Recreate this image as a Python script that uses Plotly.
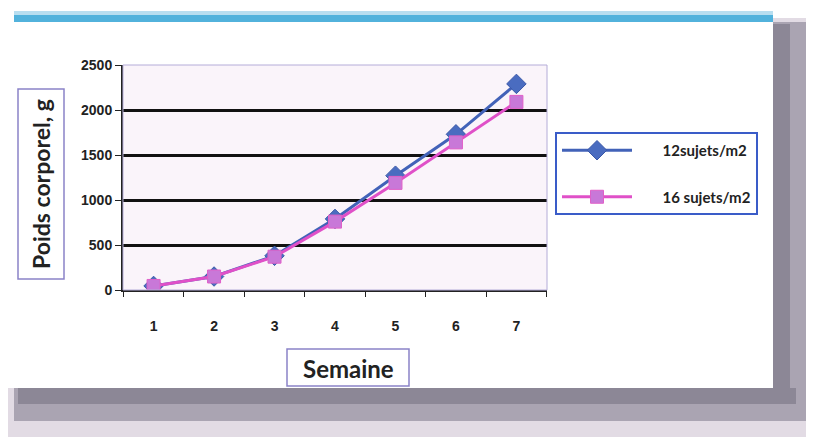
import plotly.graph_objects as go

weeks = ["1", "2", "3", "4", "5", "6", "7"]
s12 = [45, 150, 380, 790, 1270, 1730, 2290]
s16 = [45, 150, 370, 760, 1190, 1640, 2090]
series_names = ["12sujets/m2", "16 sujets/m2"]
y_ticks = [0, 500, 1000, 1500, 2000, 2500]
y_title = "Poids corporel, g"
x_title = "Semaine"

# page is rendered with an 8px body margin: work in page pixels, shift by O
O = 8
W, H = 814 - O, 437 - O
L, R, T, B = 123, 547, 65, 290  # page pixels of the plot area


def fx(px):
    return (px - L) / (R - L)


def fy(py):
    return (B - py) / (B - T)


def rect(x0, y0, x1, y1, fill=None, line=None, lw=0):
    return dict(type="rect", xref="paper", yref="paper",
                x0=fx(x0), x1=fx(x1), y0=fy(y1), y1=fy(y0),
                fillcolor=fill if fill else "rgba(0,0,0,0)",
                line=dict(color=line if line else "rgba(0,0,0,0)", width=lw),
                layer="above" if fill is None else "below")


pad = "\u00a0" * 7

fig = go.Figure()
fig.add_trace(go.Scatter(
    x=weeks, y=s12, name=pad + series_names[0], mode="lines+markers",
    line=dict(color="#4262b8", width=3),
    marker=dict(symbol="diamond", size=15, color="#4a6cc0",
                line=dict(color="#3a58a8", width=1)),
    legendgroup="a"))
fig.add_trace(go.Scatter(
    x=weeks, y=s16, name=pad + series_names[1], mode="lines+markers",
    line=dict(color="#e050c8", width=3),
    marker=dict(symbol="square", size=13, color="#c878d8",
                line=dict(color="#e060c8", width=1)),
    legendgroup="b"))

shapes = [
    # shadows
    rect(0, 388, 814, 437, fill="#e2dbe4"),
    rect(773, 18, 814, 437, fill="#e2dbe4"),
    rect(14, 388, 814, 421, fill="#aaa4b2"),
    rect(773, 22, 810, 421, fill="#aaa4b2"),
    rect(18, 388, 796, 404, fill="#8c8796"),
    rect(773, 24, 790, 404, fill="#8c8796"),
    # top stripe
    rect(14, 11, 773, 15, fill="#b8def0"),
    rect(14, 15, 773, 22, fill="#52b2dc"),
    # plot border (top/right faint)
    rect(L, T, R, B, line="#b4acd8", lw=1),
    # axis title boxes
    rect(18, 89, 64, 279, line="#8a82c8", lw=1.5),
    rect(287, 349, 409, 386, line="#8a82c8", lw=1.5),
]

fig.update_layout(
    width=W, height=H,
    margin=dict(l=L - O, r=814 - R, t=T - O, b=437 - B),
    paper_bgcolor="white",
    plot_bgcolor="#faf4fa",
    shapes=shapes,
    showlegend=True,
    legend=dict(x=fx(555), y=fy(132), xanchor="left", yanchor="top",
                bgcolor="white", bordercolor="#3a5cc8", borderwidth=2,
                font=dict(family="Lato", size=15, color="#222", weight="bold"),
                itemwidth=70, tracegroupgap=24, traceorder="grouped"),
    annotations=[
        dict(text=y_title, xref="paper", yref="paper", x=fx(41), y=fy(184),
             xanchor="center", yanchor="middle",
             textangle=-90, showarrow=False,
             font=dict(family="Lato", size=23, color="#222", weight="bold")),
        dict(text=x_title, xref="paper", yref="paper", x=fx(348), y=fy(368),
             xanchor="center", yanchor="middle", showarrow=False,
             font=dict(family="Lato", size=24, color="#222", weight="bold")),
    ],
)
fig.update_xaxes(
    type="category", showgrid=False, showline=True, linecolor="#222", linewidth=2,
    ticks="outside", tickson="boundaries", ticklen=5, tickcolor="#222",
    ticklabelstandoff=22,
    tickfont=dict(family="Liberation Sans", size=14, color="#222", weight="bold"),
)
fig.update_yaxes(
    range=[0, 2500], tickvals=y_ticks, showgrid=True, gridcolor="#111", gridwidth=2.5,
    showline=True, linecolor="#222", linewidth=2, ticks="outside", ticklen=6,
    tickcolor="#222", zeroline=False,
    tickfont=dict(family="Liberation Sans", size=14, color="#222", weight="bold"),
)

fig.write_html("out.html")
